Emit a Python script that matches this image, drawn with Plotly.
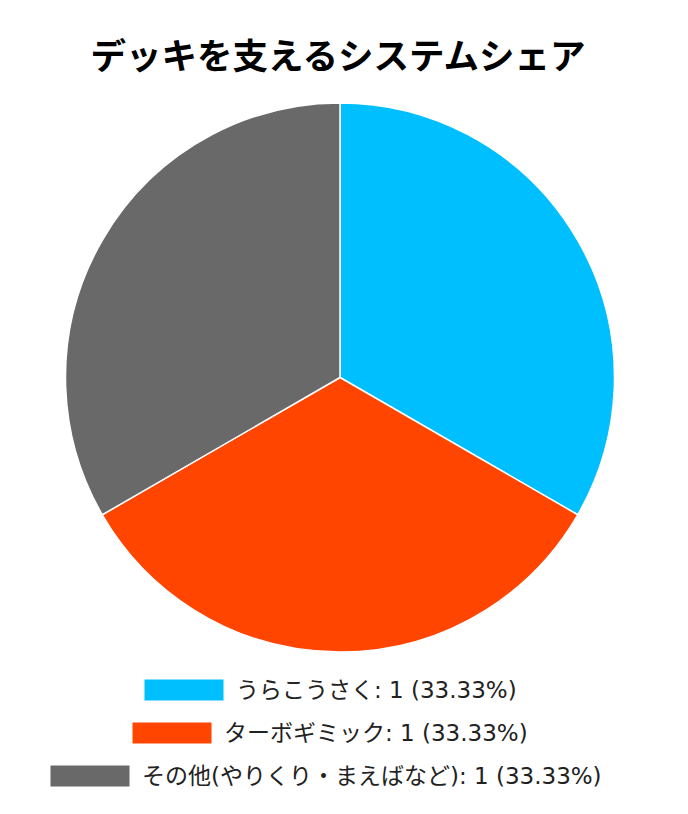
import plotly.graph_objs as go

title = "デッキを支えるシステムシェア"
labels = ["うらこうさく", "ターボギミック", "その他(やりくり・まえばなど)"]
values = [1, 1, 1]
colors = ["#00BFFF", "#FF4500", "#696969"]

# page body has an 8px margin, so the figure is 16px smaller than the window
W, H = 672, 798
OFF = 8
FONT = "DejaVu Sans, Noto Sans CJK JP"
TFONT = "Noto Sans CJK JP"


def px(v):
    return (v - OFF) / W


def py(v):
    return 1 - (v - OFF) / H


fig = go.Figure()
fig.add_trace(go.Pie(labels=labels, values=values, sort=False, direction="clockwise",
                     rotation=0, marker=dict(colors=colors, line=dict(color="white", width=1.5)),
                     textinfo="none", hoverinfo="label+value+percent",
                     domain=dict(x=[px(65), px(615)], y=[py(652), py(103)])))

# legend rows drawn by hand (centered rows with wide colour boxes)
total = sum(values)
box_left = [144, 132, 50]
row_y = [690, 733, 776]
shapes = []
annotations = []
for i, (lab, v, c) in enumerate(zip(labels, values, colors)):
    y = row_y[i]
    shapes.append(dict(type="rect", xref="paper", yref="paper",
                       x0=px(box_left[i]), x1=px(box_left[i] + 80),
                       y0=py(y + 11), y1=py(y - 11),
                       fillcolor=c, line=dict(color="white", width=1)))
    annotations.append(dict(text=f"{lab}: {v} ({v / total * 100:.2f}%)",
                            xref="paper", yref="paper", x=px(box_left[i] + 90), y=py(y),
                            xanchor="left", yanchor="middle", showarrow=False,
                            font=dict(family=FONT, size=23, color="#222")))

fig.update_layout(width=W, height=H, showlegend=False,
                  title=dict(text=f"<b>{title}</b>", x=px(338), xanchor="center",
                             y=py(57), yanchor="middle",
                             font=dict(family=TFONT, size=35.5, color="black")),
                  shapes=shapes, annotations=annotations,
                  paper_bgcolor="white", plot_bgcolor="white",
                  margin=dict(l=0, r=0, t=0, b=0))
fig.write_html("out.html")
